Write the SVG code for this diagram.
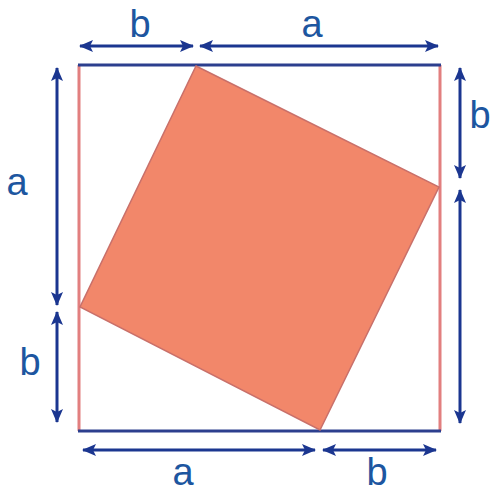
<svg xmlns="http://www.w3.org/2000/svg" width="492" height="495" viewBox="0 0 492 495">
  <style>
    .lbl { font-family: "Liberation Sans", Arial, sans-serif; font-size: 38px; fill: #1d56a0; text-anchor: middle; }
    .arr { stroke: #1b3690; stroke-width: 3; fill: none; marker-start: url(#ah); marker-end: url(#ah); }
    .side-v { stroke: #e27f7f; stroke-width: 3; }
    .side-h { stroke: #2c3f8e; stroke-width: 3; }
  </style>
  <defs>
    <marker id="ah" viewBox="0 0 14 12" refX="13" refY="6" markerWidth="14" markerHeight="12" markerUnits="userSpaceOnUse" orient="auto-start-reverse">
      <path d="M0,0 L14,6 L0,12 L3,6 Z" fill="#1b3690"/>
    </marker>
  </defs>
  <rect width="492" height="495" fill="#ffffff"/>
  <g id="outer-square">
    <line class="side-v" x1="79" y1="65" x2="79" y2="431"/>
    <line class="side-v" x1="440" y1="65" x2="440" y2="431"/>
    <line class="side-h" x1="78" y1="65" x2="441" y2="65"/>
    <line class="side-h" x1="78" y1="431" x2="441" y2="431"/>
  </g>
  <g id="inner-square">
    <polygon points="196,66 439,187 320,430 80,307" fill="#f2876a" stroke="#c9706a" stroke-width="1.5"/>
  </g>
  <g id="connectors">
    <line class="arr" x1="80" y1="46" x2="193" y2="46"/>
    <line class="arr" x1="200" y1="46" x2="438" y2="46"/>
    <line class="arr" x1="57" y1="68" x2="57" y2="305"/>
    <line class="arr" x1="57" y1="312" x2="57" y2="422"/>
    <line class="arr" x1="460" y1="68" x2="460" y2="178"/>
    <line class="arr" x1="460" y1="190" x2="460" y2="423"/>
    <line class="arr" x1="83" y1="450" x2="315" y2="450"/>
    <line class="arr" x1="323" y1="450" x2="436" y2="450"/>
  </g>
  <g id="label-top-b"><text class="lbl" x="140" y="37">b</text></g>
  <g id="label-top-a"><text class="lbl" x="312" y="37">a</text></g>
  <g id="label-left-a"><text class="lbl" x="17" y="195">a</text></g>
  <g id="label-left-b"><text class="lbl" x="30" y="375">b</text></g>
  <g id="label-right-b"><text class="lbl" x="480" y="128">b</text></g>
  <g id="label-bottom-a"><text class="lbl" x="183" y="485">a</text></g>
  <g id="label-bottom-b"><text class="lbl" x="377" y="485">b</text></g>
</svg>
